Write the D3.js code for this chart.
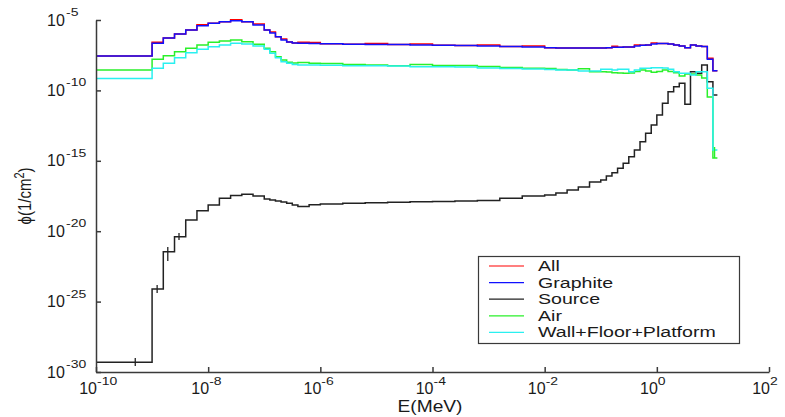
<!DOCTYPE html>
<html>
<head>
<meta charset="utf-8">
<script src="https://cdn.jsdelivr.net/npm/d3@7/dist/d3.min.js"></script>
<style>
  body { margin: 0; background: #fff; }
  text { font-family: "Liberation Sans", Arial, sans-serif; fill: #1a1a1a; }
</style>
</head>
<body>
<div id="chart"></div>
<script>
// bin edges, log10(E / MeV)
const binEdgesLog = [-10, -9, -8.8, -8.6, -8.4, -8.2, -8.0, -7.8, -7.6, -7.4, -7.2, -7.0,
  -6.9, -6.8, -6.7, -6.6, -6.5, -6.4, -6.2, -6.0, -5.6, -5.2, -4.8, -4.4, -4.0, -3.6,
  -3.2, -2.8, -2.4, -2.0, -1.8, -1.6, -1.4, -1.2, -1.0, -0.9, -0.8, -0.7, -0.6, -0.5,
  -0.4, -0.3, -0.2, -0.1, 0, 0.1, 0.2, 0.3, 0.4, 0.5, 0.6, 0.7, 0.8, 0.9, 1.0, 1.08];

// log10 of flux per bin (1/cm^2)
const allLog = [
  -7.56, -6.58, -6.28, -5.99, -5.71, -5.33, -5.23, -5.12, -4.98, -5.12,
  -5.29, -5.71, -5.85, -6.19, -6.35, -6.56, -6.63, -6.58, -6.60, -6.69,
  -6.73, -6.67, -6.74, -6.71, -6.80, -6.81, -6.78, -6.88, -6.85, -6.97,
  -6.99, -6.99, -6.99, -6.99, -6.99, -6.97, -6.87, -6.94, -6.92, -6.92,
  -6.78, -6.80, -6.78, -6.63, -6.67, -6.67, -6.70, -6.78, -6.85, -6.97,
  -6.78, -6.85, -6.88, -7.72, -8.60];
const graphiteLog = [
  -7.56, -6.65, -6.28, -5.99, -5.71, -5.40, -5.23, -5.12, -5.05, -5.12,
  -5.36, -5.71, -5.92, -6.19, -6.42, -6.56, -6.63, -6.65, -6.67, -6.69,
  -6.73, -6.74, -6.74, -6.78, -6.80, -6.81, -6.85, -6.88, -6.92, -6.97,
  -6.99, -6.99, -6.99, -6.99, -6.99, -6.97, -6.94, -6.94, -6.92, -6.92,
  -6.85, -6.80, -6.78, -6.70, -6.67, -6.67, -6.70, -6.78, -6.85, -6.97,
  -6.78, -6.85, -6.88, -7.79, -8.60];
const sourceLog = [
  -29.31, -24.10, -21.46, -20.39, -19.20, -18.55, -18.14, -17.66, -17.46, -17.38,
  -17.50, -17.71, -17.78, -17.86, -17.93, -18.02, -18.14, -18.25, -18.12, -18.07,
  -18.02, -17.98, -17.94, -17.90, -17.89, -17.86, -17.82, -17.66, -17.50, -17.43,
  -17.29, -17.07, -16.86, -16.51, -16.36, -16.08, -15.85, -15.53, -15.18, -14.71,
  -14.23, -13.64, -13.05, -12.46, -11.75, -10.92, -10.09, -9.74, -9.50, -10.99,
  -8.67, -8.79, -8.20, -9.38, -10.33];
const airLog = [
  -8.55, -7.79, -7.54, -7.25, -7.01, -6.78, -6.58, -6.49, -6.42, -6.54,
  -6.73, -7.01, -7.25, -7.61, -7.84, -8.00, -8.05, -8.02, -8.08, -8.09,
  -8.16, -8.20, -8.25, -8.16, -8.23, -8.23, -8.30, -8.37, -8.43, -8.44,
  -8.52, -8.55, -8.46, -8.67, -8.67, -8.69, -8.74, -8.76, -8.79, -8.76,
  -8.66, -8.55, -8.62, -8.71, -8.66, -8.55, -8.66, -8.74, -8.98, -8.84,
  -8.84, -8.91, -9.12, -10.47, -14.80];
const wallLog = [
  -9.15, -8.43, -8.08, -7.68, -7.32, -7.08, -6.90, -6.78, -6.65, -6.70,
  -6.85, -7.08, -7.37, -7.68, -7.96, -8.08, -8.16, -8.20, -8.20, -8.22,
  -8.25, -8.25, -8.27, -8.32, -8.32, -8.34, -8.41, -8.44, -8.48, -8.52,
  -8.55, -8.55, -8.62, -8.62, -8.50, -8.50, -8.55, -8.50, -8.50, -8.67,
  -8.55, -8.43, -8.43, -8.39, -8.39, -8.41, -8.50, -8.67, -8.79, -8.79,
  -8.91, -8.67, -8.67, -9.85, -14.23];

// error bars: [log10 E, log10 low, log10 high]
const sourceErr = [[-9.30, -29.57, -29.0], [-8.91, -24.39, -23.82], [-8.72, -22.12, -21.12], [-8.52, -20.63, -20.13]];
const airErr = [[1.03, -14.80, -14.02]];

const seriesNames = ["All", "Graphite", "Source", "Air", "Wall+Floor+Platform"];
const xTicksExp = [-10, -8, -6, -4, -2, 0, 2];
const yTicksExp = [-30, -25, -20, -15, -10, -5];

const series = [
  {name: seriesNames[0], vals: allLog, color: "#ff0000"},
  {name: seriesNames[1], vals: graphiteLog, color: "#1010ff"},
  {name: seriesNames[2], vals: sourceLog, color: "#222222"},
  {name: seriesNames[3], vals: airLog, color: "#2af02a"},
  {name: seriesNames[4], vals: wallLog, color: "#2af0f0"}
];

const W = 785, H = 417;
const svg = d3.select("#chart").append("svg")
  .attr("width", W).attr("height", H);

const x = d3.scaleLog().domain([1e-10, 1e2]).range([96, 769]);
const y = d3.scaleLog().domain([1e-30, 1e-5]).range([372, 20]);

// curves
const line = d3.line()
  .x(d => x(d[0]))
  .y(d => y(d[1]))
  .curve(d3.curveStepAfter);

series.forEach(s => {
  const pts = binEdgesLog.map((e, i) => [Math.pow(10, e), Math.pow(10, s.vals[Math.min(i, s.vals.length - 1)])]);
  svg.append("path")
    .attr("d", line(pts))
    .attr("fill", "none")
    .attr("stroke", s.color)
    .attr("stroke-width", 1.5);
});

function errBars(data, color) {
  svg.selectAll(null)
    .data(data)
    .enter()
    .append("line")
    .attr("x1", d => x(Math.pow(10, d[0])))
    .attr("x2", d => x(Math.pow(10, d[0])))
    .attr("y1", d => y(Math.pow(10, d[1])))
    .attr("y2", d => y(Math.pow(10, d[2])))
    .attr("stroke", color)
    .attr("stroke-width", 1.3);
}
errBars(sourceErr, "#222");
errBars(airErr, "#2af02a");

// axes
const gx = svg.append("g")
  .attr("transform", `translate(0, ${y.range()[0]})`)
  .call(d3.axisBottom(x).tickValues(xTicksExp.map(e => Math.pow(10, e))).tickSize(-5).tickSizeOuter(0).tickFormat(""));
const gy = svg.append("g")
  .attr("transform", `translate(${x.range()[0]}, 0)`)
  .call(d3.axisLeft(y).tickValues(yTicksExp.map(e => Math.pow(10, e))).tickSize(-5).tickSizeOuter(0).tickFormat(""));
[gx, gy].forEach(g => {
  g.selectAll("path, line").attr("stroke", "#3a3a3a").attr("stroke-width", 1.5);
});

// tick labels 10^n
xTicksExp.forEach(e => {
  const px = x(Math.pow(10, e));
  svg.append("text")
    .attr("x", px + 1).attr("y", 394)
    .attr("text-anchor", "end")
    .style("font-size", "16px")
    .text("10");
  svg.append("text")
    .attr("transform", `translate(${px + 1}, 385) scale(1.4, 1)`)
    .style("font-size", "10px")
    .text(e);
});
yTicksExp.forEach(e => {
  const py = y(Math.pow(10, e));
  svg.append("text")
    .attr("x", 47).attr("y", py + 5.5)
    .style("font-size", "16px")
    .text("10");
  svg.append("text")
    .attr("transform", `translate(66, ${py - 4}) scale(1.4, 1)`)
    .style("font-size", "10px")
    .text(e);
});

// axis titles
svg.append("text")
  .attr("transform", "translate(430, 411.5) scale(1.2, 1)")
  .attr("text-anchor", "middle")
  .style("font-size", "16px")
  .text("E(MeV)");

const yl = svg.append("text")
  .attr("transform", "translate(31, 196) rotate(-90) scale(1, 1.25)")
  .attr("text-anchor", "middle")
  .style("font-size", "15px");
yl.append("tspan").text("ϕ(1/cm");
yl.append("tspan").attr("dy", -6).style("font-size", "11px").text("2");
yl.append("tspan").attr("dy", 6).text(")");

// legend
const legend = svg.append("g");
legend.append("rect")
  .attr("x", 478.5).attr("y", 256.5)
  .attr("width", 261).attr("height", 87)
  .attr("fill", "#fff")
  .attr("stroke", "#3a3a3a")
  .attr("stroke-width", 1.2);
series.forEach((s, i) => {
  const cy = 266 + i * 16.6;
  legend.append("line")
    .attr("x1", 489).attr("x2", 524)
    .attr("y1", cy).attr("y2", cy)
    .attr("stroke", s.color)
    .attr("stroke-width", 1.2);
  legend.append("text")
    .attr("transform", `translate(538, ${cy + 5}) scale(1.4, 1)`)
    .style("font-size", "14px")
    .text(s.name);
});
</script>
</body>
</html>
